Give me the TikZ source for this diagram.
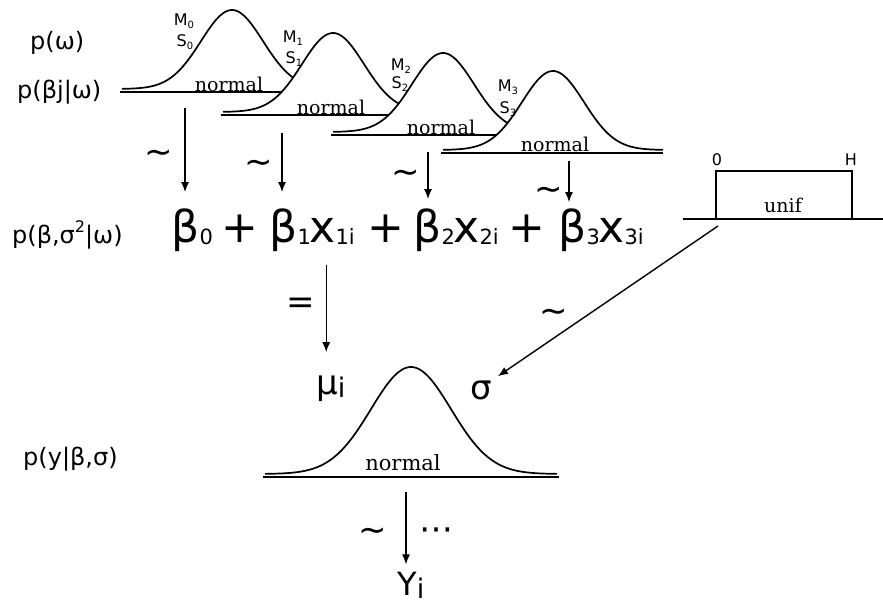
\documentclass[tikz,border=0pt]{standalone}
\usepackage{fontspec}
\setmainfont{DejaVu Sans}
\newfontfamily\slab{DejaVu Serif}
\usetikzlibrary{arrows.meta}
\newcommand{\fs}[1]{\fontsize{#1}{#1}\selectfont}
\newcommand{\lsub}[1]{\raisebox{-2pt}{\fs{21}#1}}
\newcommand{\msub}[1]{\raisebox{-3pt}{\fs{27}#1}}

\begin{document}
\begin{tikzpicture}[x=1pt, y=-1pt,
  lbl/.style={font=\fs{24}, inner sep=0pt, anchor=base west},
  big/.style={font=\fs{44}, inner sep=0pt, anchor=base west},
  sym/.style={font=\fs{34}, inner sep=0pt},
  dist/.style={font=\slab\fs{19}, inner sep=0pt},
  parm/.style={font=\fs{16}, inner sep=0pt},
  curve/.style={line width=1.7pt, fill=white},
  base/.style={line width=1.9pt},
  arr/.style={-{Latex[length=10pt,width=8pt]}, line width=1.4pt}
]
  \useasboundingbox (0,0) rectangle (883,605);

  % left labels
  \node[lbl] (pw)  at (30,49)  {p(ω)};
  \node[lbl] (pbj) at (17,98)  {p(βj|ω)};
  \node[lbl] (pbs) at (12,243) {p(β,σ\raisebox{0.45em}{\fs{16}2}|ω)};
  \node[lbl] (py)  at (23,465) {p(y|β,σ)};

  % prior curves, each one hides the one behind it
  \draw[curve] plot[domain=-110:110, samples=80, smooth] ({232+\x},{89-79*exp(-0.5*(\x/31)*(\x/31))});
  \draw[base] (120,92) -- (345,92);
  \node[dist] (n0) at (229,84) {normal};
  \node[parm] (m0) at (184,21) {M\raisebox{-3pt}{\fs{10}0}};
  \node[parm] (s0) at (185,42) {S\raisebox{-3pt}{\fs{10}0}};

  \draw[curve] plot[domain=-110:110, samples=80, smooth] ({333+\x},{112-79*exp(-0.5*(\x/31)*(\x/31))});
  \draw[base] (221,115) -- (446,115);
  \node[dist] (n1) at (331,107) {normal};
  \node[parm] (m1) at (293,38) {M\raisebox{-3pt}{\fs{10}1}};
  \node[parm] (s1) at (294,59) {S\raisebox{-3pt}{\fs{10}1}};

  \draw[curve] plot[domain=-110:110, samples=80, smooth] ({443+\x},{132-79*exp(-0.5*(\x/31)*(\x/31))});
  \draw[base] (331,135) -- (556,135);
  \node[dist] (n2) at (441,127) {normal};
  \node[parm] (m2) at (401,66) {M\raisebox{-3pt}{\fs{10}2}};
  \node[parm] (s2) at (400,84) {S\raisebox{-3pt}{\fs{10}2}};

  \draw[curve] plot[domain=-110:110, samples=80, smooth] ({553+\x},{150-79*exp(-0.5*(\x/31)*(\x/31))});
  \draw[base] (441,153) -- (663,153);
  \node[dist] (n3) at (555,144) {normal};
  \node[parm] (m3) at (508,87) {M\raisebox{-3pt}{\fs{10}3}};
  \node[parm] (s3) at (508,109) {S\raisebox{-3pt}{\fs{10}3}};

  % linear predictor
  \node[big] (b0) at (171,242) {β};
  \node[big] (z0) at (b0.base east) {\lsub{0}};
  \node[big, anchor=base] (p1) at (240,242) {+};
  \node[big] (b1) at (269,242) {β};
  \node[big] (x1) at (b1.base east) {\lsub{1}\kern-1.5pt x\lsub{1i}};
  \node[big, anchor=base] (p2) at (386,242) {+};
  \node[big] (b2) at (413,242) {β};
  \node[big] (x2) at (b2.base east) {\lsub{2}\kern-1.5pt x\lsub{2i}};
  \node[big, anchor=base] (p3) at (527,242) {+};
  \node[big] (b3) at (558,242) {β};
  \node[big] (x3) at (b3.base east) {\lsub{3}\kern-1.5pt x\lsub{3i}};

  \coordinate (a0) at (185,108);
  \coordinate (a1) at (282,133);
  \coordinate (a2) at (428,152);
  \coordinate (a3) at (569,161);
  \draw[arr, shorten >=16pt] (a0) -- (a0 |- b0.north);
  \draw[arr, shorten >=16pt] (a1) -- (a1 |- b1.north);
  \draw[arr, shorten >=9pt]  (a2) -- (a2 |- b2.north);
  \draw[arr, shorten >=6pt]  (a3) -- (a3 |- b3.north);
  \node[sym] (t0) at (159,157) {\textasciitilde};
  \node[sym] (t1) at (259,167) {\textasciitilde};
  \node[sym] (t2) at (406,177) {\textasciitilde};
  \node[sym] (t3) at (549,194) {\textasciitilde};

  % uniform prior
  \node[dist] (u) at (783,205) {unif};
  \coordinate (u0) at (716,219);
  \coordinate (u1) at (852,219);
  \draw[line width=1.6pt] (u0) -- ++(0,-48) -- ++(136,0) -- (u1);
  \draw[base] (683,219) -- (883,219);
  \node[parm] (lo) at (717,160) {0};
  \node[parm] (hi) at (851,160) {H};

  % likelihood
  \node[sym, anchor=base west] (mu) at (316,394) {μ\msub{i}};
  \node[sym, anchor=base west] (sig) at (470,399) {σ};
  \node[sym] (eq) at (301,306) {=};
  \node[sym] (t4) at (554,316) {\textasciitilde};
  \draw[arr, shorten <=21pt, shorten >=23pt] (x1.south) -- (x1.south |- mu.north);
  \coordinate (uc) at (718,226);
  \draw[arr] (uc) -- ([xshift=6pt,yshift=4pt]sig.north east);

  \draw[curve] plot[domain=-146:146, samples=100, smooth] ({411+\x},{474-107*exp(-0.5*(\x/40)*(\x/40))});
  \draw[base] (263,477) -- (559,477);
  \node[dist, font=\slab\fs{21}] (n4) at (403,463) {normal};

  % data
  \node[sym, font=\fs{32}, anchor=base west] (y) at (397,595) {Y\msub{i}};
  \coordinate (ya) at (406,492);
  \draw[arr, shorten >=7pt] (ya) -- (ya |- y.north);
  \node[sym] (t5) at (373,535) {\textasciitilde};
  \node[sym] (dots) at (436,534) {⋯};
\end{tikzpicture}
\end{document}
